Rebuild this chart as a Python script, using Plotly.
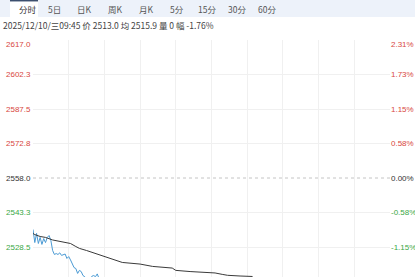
import plotly.graph_objects as go

# ---------------- data ----------------
tabs = ["分时", "5日", "日K", "周K", "月K", "5分", "15分", "30分", "60分"]
info_text = "2025/12/10/三09:45 价 2513.0 均 2515.9 量 0 幅 -1.76%"

prev_close = 2558.0
left_labels = ["2617.0", "2602.3", "2587.5", "2572.8", "2558.0", "2543.3", "2528.5"]
left_values = [2617.0, 2602.25, 2587.5, 2572.75, 2558.0, 2543.25, 2528.5]
right_labels = ["2.31%", "1.73%", "1.15%", "0.58%", "0.00%", "-0.58%", "-1.15%"]

total_slots = 200

price_t = list(range(0, 38)) + [40, 44, 48, 52, 56, 60, 64, 68, 72, 76, 80, 84, 88, 92,
                                 96, 100, 104, 108, 112, 116, 120, 123]
price = [2536.0, 2530.4, 2534.3, 2530.0, 2532.6, 2529.6, 2532.1, 2530.4, 2532.6, 2533.4,
         2531.3, 2527.0, 2525.3, 2525.7, 2525.3, 2526.0, 2524.9, 2525.3, 2525.5, 2523.6,
         2524.4, 2523.0, 2521.0, 2519.7, 2519.3, 2517.2, 2518.5, 2518.0, 2516.3, 2515.8,
         2514.8, 2514.2, 2515.0, 2516.0, 2516.3, 2515.8, 2517.0, 2515.0,
         2513.2, 2512.4, 2511.6, 2512.8, 2511.0, 2510.4, 2511.8, 2512.6, 2511.2, 2510.6,
         2512.0, 2513.4, 2512.2, 2511.4, 2512.8, 2513.6, 2512.4, 2511.8, 2512.6, 2513.2,
         2512.6, 2513.0]

avg_t = [0, 1, 4, 7, 11, 15, 21, 24, 26, 30, 35, 40, 45, 50, 60, 67, 78, 80, 88, 102,
         106, 109, 116, 123]
avg = [2534.3, 2533.8, 2533.0, 2532.6, 2531.5, 2530.9, 2530.0, 2528.7, 2527.9, 2527.0,
       2525.7, 2524.4, 2522.9, 2521.9, 2521.2, 2520.2, 2519.5, 2518.5, 2518.0, 2517.4,
       2516.8, 2516.4, 2516.1, 2515.9]

# ---------------- styling ----------------
W, H = 415, 277
ML, MR, MT, MB = 33, 25, 40, 0
PW, PH = W - ML - MR, H - MT - MB
RED, GREEN, DARK = "#d8473e", "#3aa845", "#333333"
FONT = "Arial, Liberation Sans, Noto Sans CJK SC, sans-serif"
CJK = "Noto Sans CJK SC, Arial, sans-serif"
Y_TOP = 2617.0
PX_PER_UNIT = 34.5 / 14.75
Y_BOTTOM = Y_TOP - PH / PX_PER_UNIT


def px_x(px):
    return (px - ML) / PW


def px_y(py):
    return (H - MB - py) / PH


def val_paper(v):
    return (v - Y_BOTTOM) / (Y_TOP - Y_BOTTOM)


fig = go.Figure()
fig.add_trace(go.Scatter(x=price_t, y=price, mode="lines",
                         line=dict(color="#4a9ad4", width=1), hoverinfo="skip"))
fig.add_trace(go.Scatter(x=avg_t, y=avg, mode="lines",
                         line=dict(color="#3a3a3a", width=1), hoverinfo="skip"))

shapes = []
# top tab bar
shapes.append(dict(type="rect", xref="paper", yref="paper",
                   x0=px_x(0), x1=px_x(W), y0=px_y(17), y1=px_y(0),
                   fillcolor="#edf2fa", line=dict(width=0), layer="below"))
shapes.append(dict(type="rect", xref="paper", yref="paper",
                   x0=px_x(10), x1=px_x(38), y0=px_y(17), y1=px_y(0),
                   fillcolor="#ffffff", line=dict(width=0), layer="below"))
shapes.append(dict(type="line", xref="paper", yref="paper",
                   x0=px_x(10), x1=px_x(38), y0=px_y(0.7), y1=px_y(0.7),
                   line=dict(color="#3c4f6e", width=1.5)))
# previous close dashed line
shapes.append(dict(type="line", xref="paper", yref="y", x0=0, x1=1,
                   y0=prev_close, y1=prev_close,
                   line=dict(color="#c4c4c4", width=1, dash="3px,3px")))

annotations = []
tab_x = [28, 54, 84, 115, 146, 177, 207, 237, 267]
for t, xp in zip(tabs, tab_x):
    annotations.append(dict(text=t, xref="paper", yref="paper", x=px_x(xp), y=px_y(9),
                            xanchor="center", yanchor="middle", showarrow=False,
                            font=dict(family=CJK, size=8.5,
                                      color="#333333" if t == "分时" else "#555555")))
annotations.append(dict(text=info_text, xref="paper", yref="paper", x=px_x(1), y=px_y(25),
                        xanchor="left", yanchor="middle", showarrow=False,
                        font=dict(family=CJK, size=8.5, color="#444444")))

for i, (lab, v, rl) in enumerate(zip(left_labels, left_values, right_labels)):
    col = RED if v > prev_close else (DARK if v == prev_close else GREEN)
    shift = -4.5 if i == 0 else 0
    yp = val_paper(v)
    annotations.append(dict(text=lab, xref="paper", yref="paper", x=px_x(32.5), y=yp,
                            xanchor="right", yanchor="middle", yshift=shift,
                            showarrow=False, font=dict(family=FONT, size=8, color=col)))
    annotations.append(dict(text=rl, xref="paper", yref="paper", x=px_x(389), y=yp,
                            xanchor="left", yanchor="middle", yshift=shift,
                            showarrow=False, font=dict(family=FONT, size=8, color=col)))

fig.update_layout(
    width=W, height=H, margin=dict(l=ML, r=MR, t=MT, b=MB),
    paper_bgcolor="#ffffff", plot_bgcolor="#ffffff", showlegend=False,
    shapes=shapes, annotations=annotations,
    xaxis=dict(range=[0, total_slots], tickvals=list(range(20, total_slots, 20)),
               showticklabels=False, showgrid=True, gridcolor="#f0f0f0", gridwidth=1,
               zeroline=False, showline=False, ticks="", fixedrange=True),
    yaxis=dict(range=[Y_BOTTOM, Y_TOP],
               tickvals=[v for v in left_values if v != prev_close] + [2513.75],
               showticklabels=False, showgrid=True, gridcolor="#f0f0f0", gridwidth=1,
               zeroline=False, showline=False, ticks="", fixedrange=True),
)

fig.write_html("out.html", config={"displayModeBar": False})
